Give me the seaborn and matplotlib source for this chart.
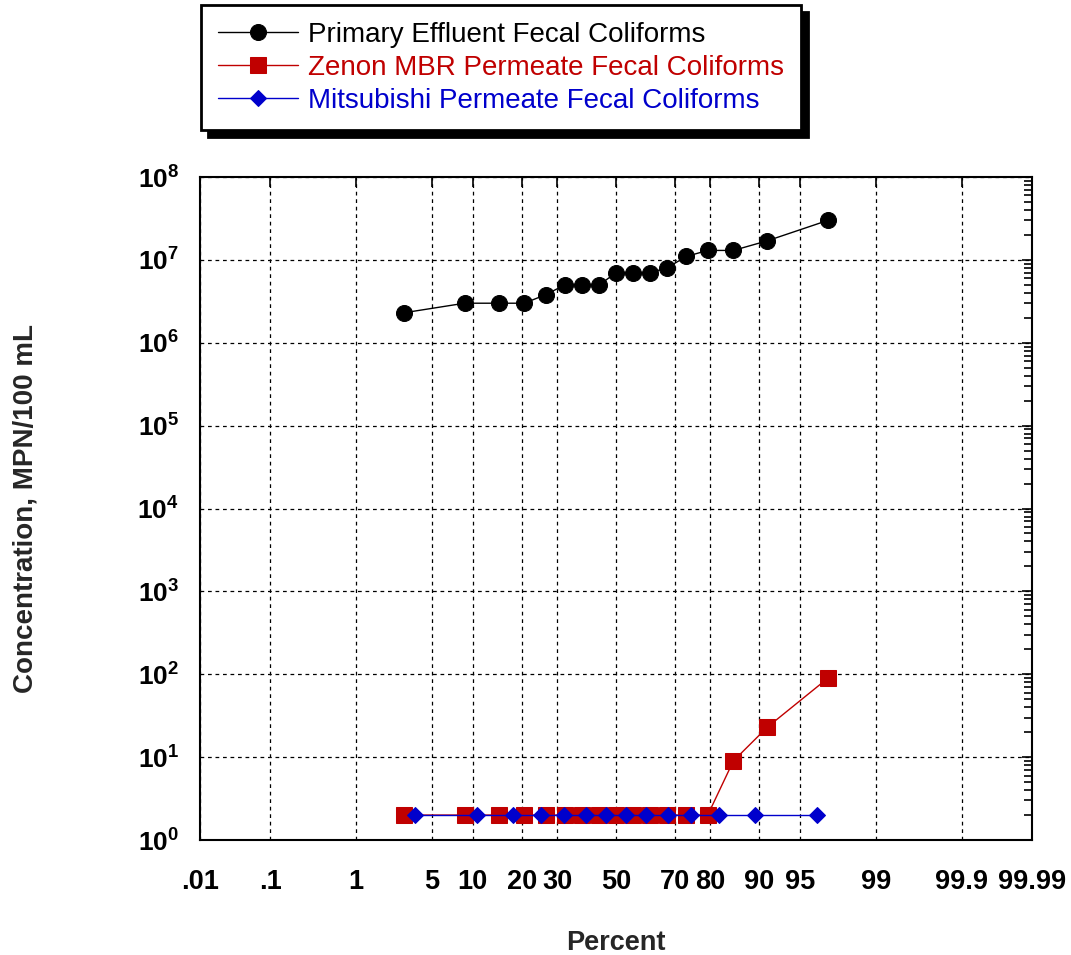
import numpy as np
import pandas as pd
import seaborn as sns
import matplotlib
matplotlib.use('Agg')
import matplotlib.pyplot as plt
from matplotlib.ticker import FixedLocator, FixedFormatter, NullLocator, LogLocator, NullFormatter
from statistics import NormalDist

# plotting positions (percent) and concentrations, MPN/100 mL
primary_pct = [2.9, 8.8, 14.7, 20.6, 26.5, 32.4, 38.2, 44.1, 50.0, 55.9, 61.8, 67.6, 73.5, 79.4, 85.3, 91.2, 97.1]
primary_conc = [2.3e6, 3e6, 3e6, 3e6, 3.8e6, 5e6, 5e6, 5e6, 7e6, 7e6, 7e6, 8e6, 1.1e7, 1.3e7, 1.3e7, 1.7e7, 3e7]

zenon_pct = [2.9, 8.8, 14.7, 20.6, 26.5, 32.4, 38.2, 44.1, 50.0, 55.9, 61.8, 67.6, 73.5, 79.4, 85.3, 91.2, 97.1]
zenon_conc = [2, 2, 2, 2, 2, 2, 2, 2, 2, 2, 2, 2, 2, 2, 9, 23, 90]

mitsu_pct = [3.6, 10.7, 17.9, 25.0, 32.1, 39.3, 46.4, 53.6, 60.7, 67.9, 75.0, 82.1, 89.3, 96.4]
mitsu_conc = [2, 2, 2, 2, 2, 2, 2, 2, 2, 2, 2, 2, 2, 2]

x_ticks = [0.01, 0.1, 1, 5, 10, 20, 30, 50, 70, 80, 90, 95, 99, 99.9, 99.99]
x_labels = ['.01', '.1', '1', '5', '10', '20', '30', '50', '70', '80', '90', '95', '99', '99.9', '99.99']
y_exps = [0, 1, 2, 3, 4, 5, 6, 7, 8]

sns.set_style('white')
plt.rcParams['font.family'] = ['Liberation Sans', 'DejaVu Sans']
plt.rcParams['mathtext.fontset'] = 'custom'
plt.rcParams['mathtext.bf'] = 'Liberation Sans:bold'
plt.rcParams['mathtext.rm'] = 'Liberation Sans:bold'

# normal probability scale for the x axis
nd = NormalDist()
def prob_fwd(p):
    p = np.clip(np.asarray(p, dtype=float) / 100.0, 1e-9, 1 - 1e-9)
    return np.vectorize(nd.inv_cdf, otypes=[float])(p)

def prob_inv(z):
    return np.vectorize(nd.cdf, otypes=[float])(np.asarray(z, dtype=float)) * 100.0

fig = plt.figure(figsize=(10.71, 9.55), dpi=100)
ax = fig.add_axes([200 / 1071, 1 - 840 / 955, 832 / 1071, 663 / 955])

sns.lineplot(x=primary_pct, y=primary_conc, ax=ax, color='black', marker='o', markersize=11.5,
             markeredgecolor='black', linewidth=1, label='Primary Effluent Fecal Coliforms')
sns.lineplot(x=zenon_pct, y=zenon_conc, ax=ax, color='#C00000', marker='s', markersize=11.5,
             markeredgecolor='#C00000', linewidth=1, label='Zenon MBR Permeate Fecal Coliforms')
sns.lineplot(x=mitsu_pct, y=mitsu_conc, ax=ax, color='#0000CC', marker='D', markersize=8.5,
             markeredgecolor='#0000CC', linewidth=1, label='Mitsubishi Permeate Fecal Coliforms')

ax.set_xscale('function', functions=(prob_fwd, prob_inv))
ax.set_yscale('log')
ax.set_xlim(0.01, 99.99)
ax.set_ylim(1, 1e8)

ax.xaxis.set_major_locator(FixedLocator(x_ticks))
ax.xaxis.set_major_formatter(FixedFormatter(x_labels))
ax.xaxis.set_minor_locator(NullLocator())
ax.yaxis.set_major_locator(FixedLocator([10.0 ** e for e in y_exps]))
ax.yaxis.set_major_formatter(FixedFormatter([r'$\mathbf{10^{%d}}$' % e for e in y_exps]))
ax.yaxis.set_minor_locator(LogLocator(base=10, subs=np.arange(2, 10), numticks=20))
ax.yaxis.set_minor_formatter(NullFormatter())

ax.tick_params(axis='both', which='both', direction='in', top=True, right=True,
               colors='black', width=1.2)
ax.tick_params(axis='both', which='major', length=7)
ax.tick_params(axis='x', which='major', pad=21, labelsize=19.5)
ax.tick_params(axis='y', which='major', pad=15, labelsize=19)
ax.tick_params(axis='y', which='minor', length=5.5)
for t in ax.get_xticklabels():
    t.set_fontweight('bold')

ax.grid(True, which='major', color='black', linestyle=(0, (3, 3)), linewidth=0.9)
for s in ax.spines.values():
    s.set_color('black')
    s.set_linewidth(1.5)

ax.set_xlabel('Percent', fontsize=19.5, fontweight='bold', labelpad=25)
ax.set_ylabel('Concentration, MPN/100 mL', fontsize=20, fontweight='bold', labelpad=71)

ax.get_legend().remove()
handles, labels = ax.get_legend_handles_labels()
leg = fig.legend(handles, labels, loc='upper left', bbox_to_anchor=(201 / 1071, 1 - 5 / 955),
                 borderaxespad=0, fontsize=20, frameon=True, fancybox=False, framealpha=1,
                 edgecolor='black', labelcolor='linecolor', handlelength=2.9, handletextpad=0.35,
                 labelspacing=0.25, borderpad=0.6,
                 shadow={'ox': 5, 'oy': -5, 'facecolor': 'black', 'edgecolor': 'black', 'alpha': 1})
leg.get_frame().set_linewidth(2)

fig.savefig('out.png', dpi=100)
